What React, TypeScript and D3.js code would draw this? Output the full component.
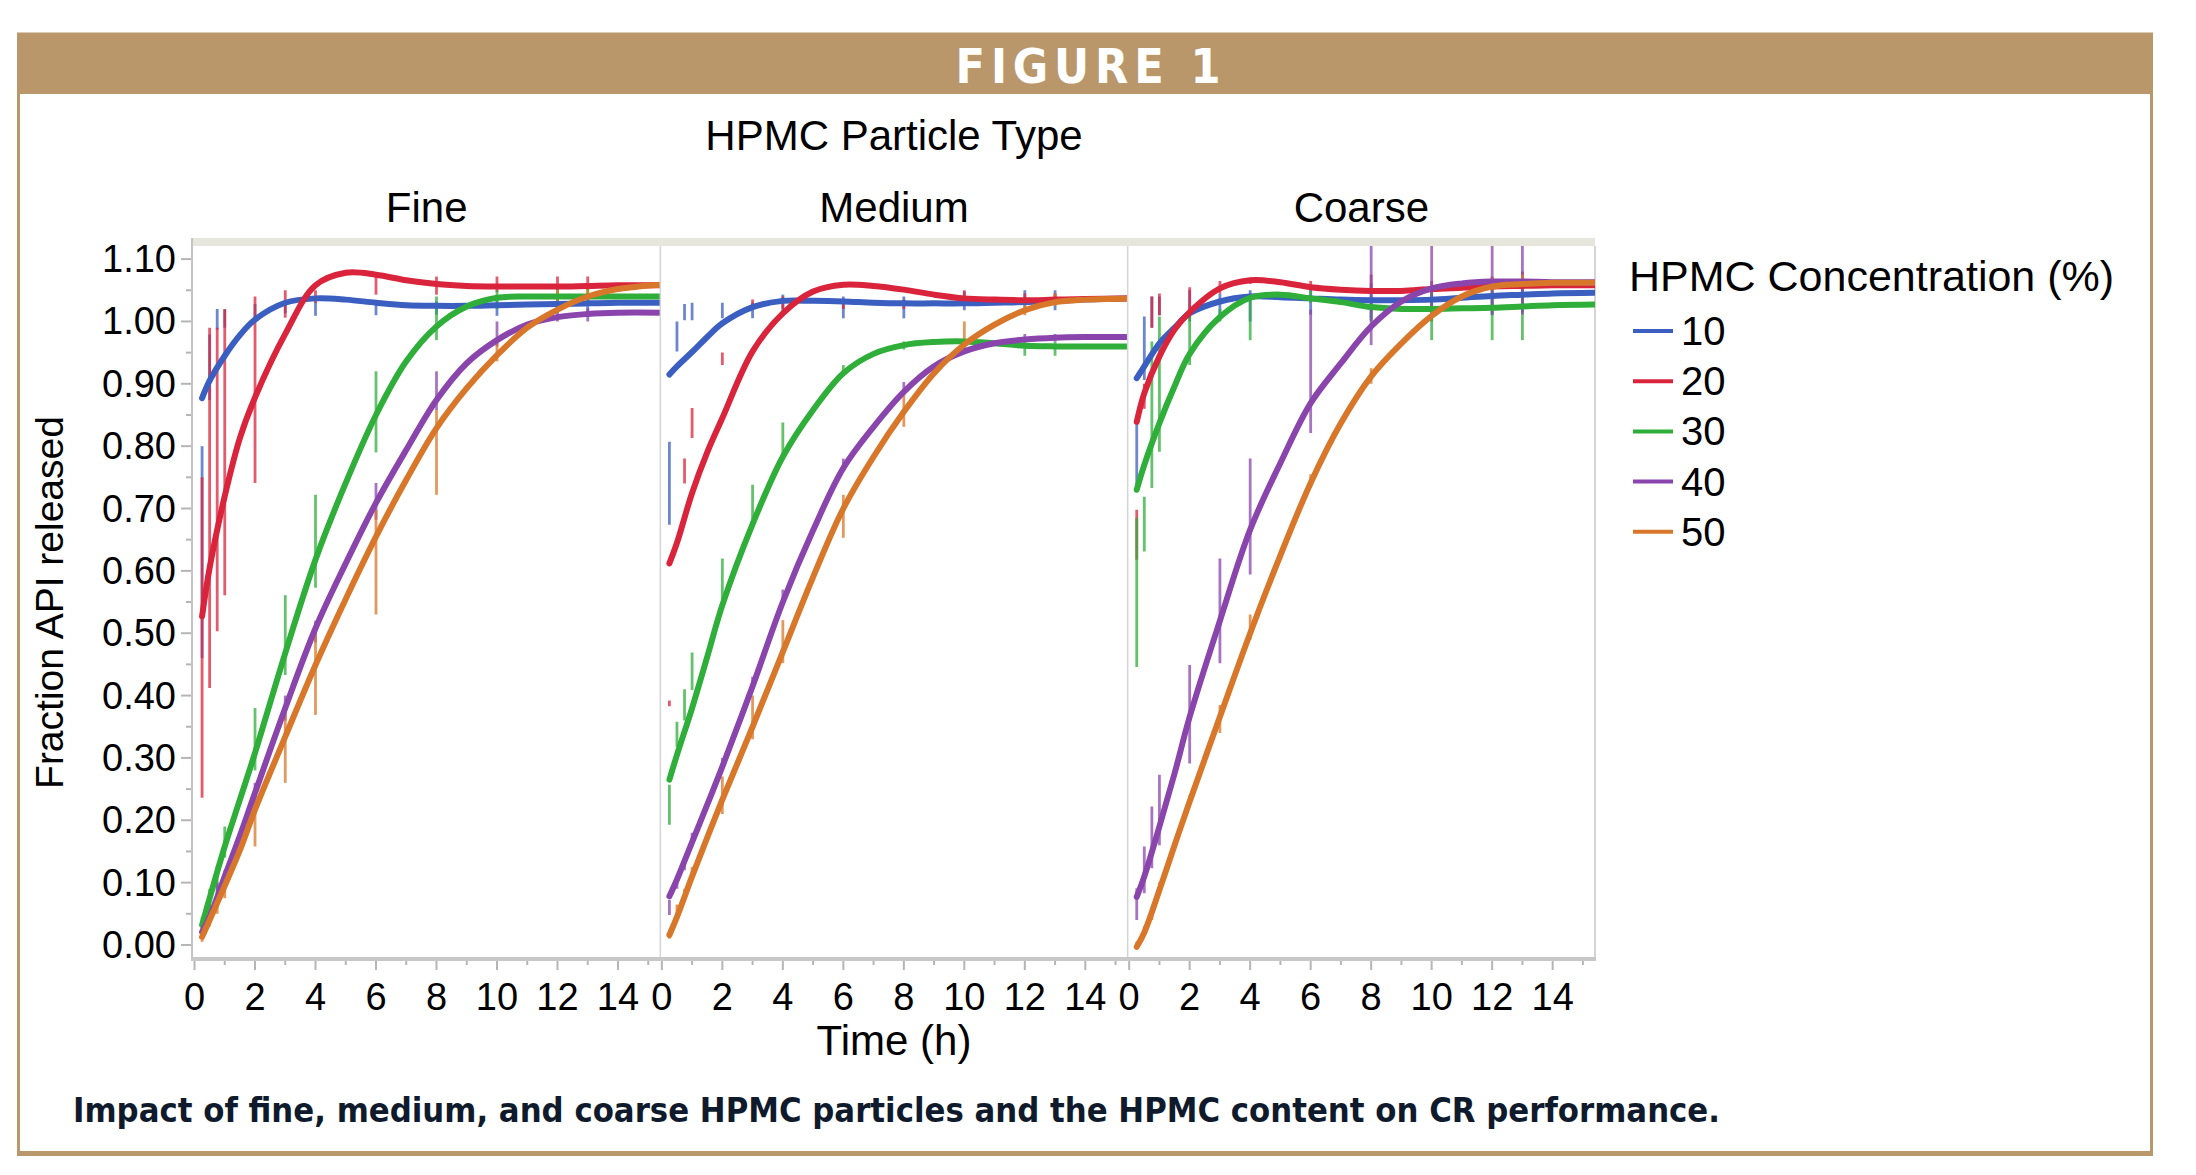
import * as d3 from "d3";

// ---- data ----
const PANELS = ["Fine", "Medium", "Coarse"];
const CONCENTRATIONS = ["10", "20", "30", "40", "50"];
const COLORS = ["#3b5fc0", "#d9243b", "#2fae3a", "#8a45ad", "#d8772a"];

// times (h) at which the fitted curves are sampled
const CURVE_TIMES = [0.25, 0.5, 1, 1.5, 2, 3, 4, 5, 6, 7, 8, 9, 10, 11, 12, 13, 14, 15.4];

// fitted fraction released, one row per concentration (10..50 %)
const FINE_CURVES = [
  [0.877, 0.905, 0.945, 0.978, 1.003, 1.03, 1.037, 1.035, 1.03, 1.026, 1.025, 1.025, 1.026, 1.027, 1.028, 1.029, 1.03, 1.03],
  [0.527, 0.605, 0.72, 0.813, 0.878, 0.98, 1.058, 1.078, 1.075, 1.066, 1.06, 1.057, 1.056, 1.056, 1.056, 1.057, 1.058, 1.058],
  [0.032, 0.075, 0.158, 0.233, 0.308, 0.468, 0.618, 0.741, 0.85, 0.936, 0.992, 1.024, 1.038, 1.04, 1.04, 1.04, 1.04, 1.04],
  [0.021, 0.045, 0.11, 0.175, 0.244, 0.38, 0.508, 0.612, 0.709, 0.794, 0.874, 0.933, 0.97, 0.995, 1.007, 1.012, 1.014, 1.014],
  [0.013, 0.04, 0.095, 0.152, 0.217, 0.334, 0.449, 0.555, 0.655, 0.746, 0.829, 0.893, 0.946, 0.99, 1.019, 1.04, 1.052, 1.059],
];
const MEDIUM_CURVES = [
  [0.915, 0.928, 0.951, 0.975, 0.997, 1.023, 1.033, 1.033, 1.032, 1.03, 1.029, 1.029, 1.029, 1.03, 1.031, 1.033, 1.035, 1.037],
  [0.612, 0.645, 0.725, 0.79, 0.845, 0.952, 1.013, 1.048, 1.059, 1.057, 1.051, 1.043, 1.037, 1.035, 1.034, 1.035, 1.036, 1.037],
  [0.265, 0.305, 0.38, 0.462, 0.545, 0.675, 0.783, 0.858, 0.917, 0.948, 0.962, 0.967, 0.968, 0.965, 0.961, 0.96, 0.96, 0.96],
  [0.078, 0.105, 0.165, 0.225, 0.286, 0.415, 0.55, 0.665, 0.765, 0.831, 0.887, 0.928, 0.952, 0.965, 0.971, 0.974, 0.975, 0.975],
  [0.016, 0.045, 0.11, 0.172, 0.233, 0.35, 0.47, 0.59, 0.7, 0.783, 0.855, 0.917, 0.963, 0.995, 1.018, 1.031, 1.035, 1.037],
];
const COARSE_CURVES = [
  [0.909, 0.928, 0.965, 0.99, 1.013, 1.032, 1.04, 1.039, 1.037, 1.035, 1.034, 1.034, 1.035, 1.038, 1.041, 1.043, 1.045, 1.046],
  [0.839, 0.885, 0.944, 0.987, 1.015, 1.053, 1.066, 1.063, 1.055, 1.051, 1.049, 1.049, 1.052, 1.054, 1.056, 1.057, 1.058, 1.058],
  [0.73, 0.77, 0.837, 0.896, 0.948, 1.007, 1.038, 1.043, 1.037, 1.031, 1.023, 1.02, 1.02, 1.021, 1.022, 1.024, 1.026, 1.027],
  [0.077, 0.11, 0.19, 0.275, 0.366, 0.52, 0.666, 0.773, 0.869, 0.933, 0.992, 1.032, 1.053, 1.061, 1.064, 1.064, 1.063, 1.063],
  [-0.003, 0.02, 0.088, 0.16, 0.23, 0.366, 0.5, 0.625, 0.741, 0.837, 0.912, 0.965, 1.009, 1.04, 1.056, 1.06, 1.062, 1.062],
];

// measured time points and their [low, high] error bars
const BAR_TIMES = [0.25, 0.5, 0.75, 1, 2, 3, 4, 6, 8, 10, 12, 13];
type Bar = [number, number] | null;
const FINE_BARS: Bar[][] = [
  [[0.46, 0.8], [0.874, 0.979], [0.987, 1.02], [0.99, 1.02], [1.005, 1.028], [1.013, 1.032], [1.009, 1.032], [1.01, 1.032], [1.011, 1.032], [1.009, 1.037], [1.013, 1.042], [1.013, 1.042]],
  [[0.236, 0.75], [0.412, 0.99], [0.503, 0.99], [0.561, 1.019], [0.741, 1.04], [1.006, 1.05], [1.03, 1.05], [1.043, 1.072], [1.043, 1.072], [1.047, 1.072], [1.05, 1.072], [1.05, 1.072]],
  [[0.02, 0.045], [0.05, 0.09], [0.07, 0.128], [0.14, 0.19], [0.28, 0.38], [0.433, 0.561], [0.573, 0.722], [0.79, 0.92], [0.97, 1.04], [1.02, 1.05], [1.02, 1.052], [1.025, 1.052]],
  [[0.012, 0.03], [0.04, 0.07], [0.07, 0.1], [0.09, 0.12], [0.23, 0.26], [0.36, 0.4], [0.485, 0.52], [0.682, 0.741], [0.858, 0.92], [0.96, 1.0], [1.0, 1.021], [1.0, 1.021]],
  [[0.005, 0.02], [0.03, 0.05], [0.05, 0.08], [0.075, 0.105], [0.158, 0.249], [0.26, 0.377], [0.369, 0.5], [0.53, 0.698], [0.722, 0.858], [0.936, 0.968], [1.019, 1.051], [1.029, 1.061]],
];
const MEDIUM_BARS: Bar[][] = [
  [[0.674, 0.807], [0.952, 1.0], [1.002, 1.028], [1.002, 1.03], [1.005, 1.03], [1.005, 1.03], [1.009, 1.043], [1.005, 1.04], [1.005, 1.04], [1.018, 1.048], [1.018, 1.05], [1.018, 1.05]],
  [[0.383, 0.392], null, [0.74, 0.78], [0.813, 0.861], [0.93, 0.95], [1.02, 1.035], [1.02, 1.04], [1.02, 1.035], [1.02, 1.035], [1.03, 1.05], [1.03, 1.045], [1.03, 1.045]],
  [[0.193, 0.257], [0.318, 0.358], [0.36, 0.41], [0.409, 0.469], [0.553, 0.62], [0.682, 0.738], [0.783, 0.838], [0.917, 0.93], [0.955, 0.968], [0.955, 0.97], [0.945, 0.968], [0.945, 0.968]],
  [[0.048, 0.072], [0.09, 0.11], [0.12, 0.142], [0.158, 0.18], [0.28, 0.3], [0.41, 0.43], [0.55, 0.57], [0.765, 0.78], [0.885, 0.903], [0.952, 0.965], [0.968, 0.98], [0.968, 0.98]],
  [[0.01, 0.025], [0.05, 0.065], [0.075, 0.09], [0.105, 0.125], [0.21, 0.27], [0.33, 0.4], [0.452, 0.521], [0.653, 0.722], [0.831, 0.89], [0.962, 1.0], [1.01, 1.034], [1.025, 1.045]],
];
const COARSE_BARS: Bar[][] = [
  [[0.73, 0.837], [0.906, 1.008], [0.99, 1.04], [1.01, 1.04], [1.0, 1.05], [1.01, 1.045], [1.0, 1.05], [1.011, 1.059], [1.003, 1.061], [1.0, 1.053], [1.01, 1.06], [1.015, 1.065]],
  [[0.618, 0.698], [0.86, 0.9], [0.99, 1.04], [1.01, 1.045], [1.005, 1.055], [1.045, 1.065], [1.06, 1.07], [1.05, 1.065], [1.05, 1.075], [1.05, 1.065], [1.053, 1.072], [1.053, 1.08]],
  [[0.446, 0.685], [0.631, 0.719], [0.733, 0.968], [0.791, 1.008], [0.93, 1.011], [1.0, 1.02], [0.97, 1.043], [1.03, 1.05], [1.0, 1.04], [0.97, 1.051], [0.97, 1.05], [0.97, 1.05]],
  [[0.04, 0.091], [0.083, 0.158], [0.123, 0.222], [0.16, 0.273], [0.291, 0.449], [0.452, 0.62], [0.594, 0.78], [0.821, 1.019], [0.962, 1.123], [1.01, 1.123], [1.011, 1.123], [1.011, 1.123]],
  [[-0.005, 0.005], [0.015, 0.03], [0.04, 0.06], [0.085, 0.1], [0.222, 0.24], [0.34, 0.385], [0.49, 0.53], [0.735, 0.755], [0.9, 0.925], [1.005, 1.02], [1.05, 1.07], [1.055, 1.075]],
];

const PANEL_CURVES = [FINE_CURVES, MEDIUM_CURVES, COARSE_CURVES];
const PANEL_BARS = [FINE_BARS, MEDIUM_BARS, COARSE_BARS];

const X_TICK_LABELS = [0, 2, 4, 6, 8, 10, 12, 14];
const X_MINOR_TICKS = [0, 1, 2, 3, 4, 5, 6, 7, 8, 9, 10, 11, 12, 13, 14, 15];
const Y_TICK_LABELS = [0, 0.1, 0.2, 0.3, 0.4, 0.5, 0.6, 0.7, 0.8, 0.9, 1.0, 1.1];
const Y_MINOR_TICKS = [0.05, 0.15, 0.25, 0.35, 0.45, 0.55, 0.65, 0.75, 0.85, 0.95, 1.05];

// ---- layout ----
const W = 2196;
const H = 1175;
const TAN = "#b9976a";
const PLOT_LEFT = 193;
const PLOT_RIGHT = 1595;
const PLOT_TOP = 246;
const PLOT_BOTTOM = 959;
const PANEL_W = (PLOT_RIGHT - PLOT_LEFT) / PANELS.length;
const SANS = "'Liberation Sans', Arial, Helvetica, sans-serif";
const CONDENSED = "'DejaVu Sans Condensed', 'Liberation Sans Narrow', sans-serif";

const y = d3.scaleLinear().domain([-0.0225, 1.121]).range([PLOT_BOTTOM, PLOT_TOP]);
const fmt = d3.format(".2f");

function Panel({ index }: { index: number }) {
  const x0 = PLOT_LEFT + index * PANEL_W;
  const x = d3.scaleLinear().domain([-0.05, 15.4]).range([x0, x0 + PANEL_W]);
  const line = d3
    .line<number>()
    .x((_, i) => x(CURVE_TIMES[i]))
    .y((d) => y(d))
    .curve(d3.curveCatmullRom.alpha(0.5));
  const curves = PANEL_CURVES[index];
  const bars = PANEL_BARS[index];
  const clipId = `clip-${index}`;

  return (
    <g>
      <defs>
        <clipPath id={clipId}>
          <rect x={x0} y={PLOT_TOP} width={PANEL_W} height={PLOT_BOTTOM - PLOT_TOP} />
        </clipPath>
      </defs>
      <text x={x0 + PANEL_W / 2} y={222} textAnchor="middle" fontSize={42} fontFamily={SANS}>
        {PANELS[index]}
      </text>
      <g clipPath={`url(#${clipId})`}>
        {bars.map((row, c) =>
          row.map((b, i) =>
            b ? (
              <line
                key={`b${c}-${i}`}
                x1={x(BAR_TIMES[i])}
                x2={x(BAR_TIMES[i])}
                y1={y(b[0])}
                y2={y(b[1])}
                stroke={COLORS[c]}
                strokeOpacity={0.75}
                strokeWidth={2.8}
              />
            ) : null
          )
        )}
        {curves.map((vals, c) => (
          <path
            key={`c${c}`}
            d={line(vals) ?? ""}
            fill="none"
            stroke={COLORS[c]}
            strokeWidth={6}
            strokeLinecap="round"
            strokeLinejoin="round"
          />
        ))}
      </g>
      {/* x axis ticks and labels */}
      {X_MINOR_TICKS.map((t) => (
        <line
          key={`t${t}`}
          x1={x(t)}
          x2={x(t)}
          y1={PLOT_BOTTOM + 2}
          y2={PLOT_BOTTOM + (t % 2 === 0 ? 11 : 6)}
          stroke="#b5b5b5"
          strokeWidth={2}
        />
      ))}
      {X_TICK_LABELS.map((t) => (
        <text key={`l${t}`} x={x(t)} y={1010} textAnchor="middle" fontSize={38} fontFamily={SANS}>
          {t}
        </text>
      ))}
      {index > 0 && (
        <line x1={x0} x2={x0} y1={PLOT_TOP} y2={PLOT_BOTTOM} stroke="#d4d4d4" strokeWidth={1.5} />
      )}
    </g>
  );
}

export default function App() {
  return (
    <div style={{ position: "absolute", left: 0, top: 0 }}>
      <svg width={W} height={H} viewBox={`0 0 ${W} ${H}`} style={{ display: "block", background: "#fff" }}>
        {/* frame */}
        <rect x={18.5} y={34} width={2133} height={1119} fill="#fff" stroke={TAN} strokeWidth={3} />
        <rect x={17} y={1151} width={2136} height={5} fill={TAN} />
        <rect x={17} y={33} width={2136} height={61} fill={TAN} />
        <text
          x={1088}
          y={83}
          textAnchor="middle"
          fill="#fff"
          fontSize={48}
          fontWeight="bold"
          fontFamily={CONDENSED}
          textLength={265}
          lengthAdjust="spacing"
        >
          FIGURE 1
        </text>

        {/* titles */}
        <text x={894} y={150} textAnchor="middle" fontSize={42} fontFamily={SANS}>
          HPMC Particle Type
        </text>

        {/* plot frame */}
        <rect x={PLOT_LEFT} y={238} width={PLOT_RIGHT - PLOT_LEFT} height={8} fill="#e6e6dc" />
        <line x1={PLOT_RIGHT} x2={PLOT_RIGHT} y1={PLOT_TOP} y2={PLOT_BOTTOM} stroke="#d4d4d4" strokeWidth={2} />
        <line x1={PLOT_LEFT - 1} x2={PLOT_LEFT - 1} y1={238} y2={PLOT_BOTTOM} stroke="#c4c4c4" strokeWidth={2} />

        {PANELS.map((_, i) => (
          <Panel key={i} index={i} />
        ))}

        <line x1={PLOT_LEFT - 2} x2={PLOT_RIGHT + 1} y1={PLOT_BOTTOM} y2={PLOT_BOTTOM} stroke="#c8c8c8" strokeWidth={4} />

        {/* y axis */}
        {Y_MINOR_TICKS.map((v) => (
          <line key={`ym${v}`} x1={PLOT_LEFT - 7} x2={PLOT_LEFT - 2} y1={y(v)} y2={y(v)} stroke="#b5b5b5" strokeWidth={2} />
        ))}
        {Y_TICK_LABELS.map((v) => (
          <g key={`y${v}`}>
            <line x1={PLOT_LEFT - 12} x2={PLOT_LEFT - 2} y1={y(v)} y2={y(v)} stroke="#b5b5b5" strokeWidth={2} />
            <text x={176} y={y(v) + 13} textAnchor="end" fontSize={38} fontFamily={SANS}>
              {fmt(v)}
            </text>
          </g>
        ))}
        <text
          transform={`translate(63, ${(PLOT_TOP + PLOT_BOTTOM) / 2}) rotate(-90)`}
          textAnchor="middle"
          fontSize={39}
          fontFamily={SANS}
        >
          Fraction API released
        </text>
        <text x={894} y={1055} textAnchor="middle" fontSize={42} fontFamily={SANS}>
          Time (h)
        </text>

        {/* legend */}
        <text x={1629} y={291} fontSize={43} fontFamily={SANS}>
          HPMC Concentration (%)
        </text>
        {CONCENTRATIONS.map((c, i) => {
          const ly = 331 + i * 50.2;
          return (
            <g key={c}>
              <line x1={1633} x2={1673} y1={ly} y2={ly} stroke={COLORS[i]} strokeWidth={4} />
              <text x={1681} y={ly + 14} fontSize={40} fontFamily={SANS}>
                {c}
              </text>
            </g>
          );
        })}

        {/* caption */}
        <text
          x={73}
          y={1122}
          fontSize={34}
          fontWeight="bold"
          fill="#0f1b2d"
          fontFamily={CONDENSED}
          textLength={1647}
          lengthAdjust="spacingAndGlyphs"
        >
          Impact of fine, medium, and coarse HPMC particles and the HPMC content on CR performance.
        </text>
      </svg>
    </div>
  );
}
